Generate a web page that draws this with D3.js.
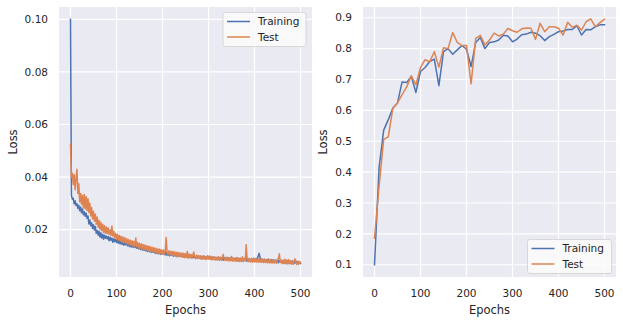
<!DOCTYPE html>
<html><head><meta charset="utf-8">
<script src="https://cdn.jsdelivr.net/npm/d3@7"></script>
<style>html,body{margin:0;padding:0;background:#fff;} svg{display:block;font-family:"DejaVu Sans",sans-serif;}</style>
</head><body>
<script>
// ---------- DATA ----------
const seriesNames = ["Training", "Test"];
const lossEpochs = d3.range(0, 501, 2);   // every 2nd epoch
const trainLoss = [
0.1000,0.0330,0.0316,0.0319,0.0298,0.0310,0.0292,0.0299,0.0281,0.0293,
0.0272,0.0286,0.0264,0.0279,0.0257,0.0268,0.0251,0.0263,0.0243,0.0252,
0.0222,0.0237,0.0215,0.0226,0.0204,0.0219,0.0199,0.0212,0.0186,0.0197,
0.0179,0.0194,0.0172,0.0188,0.0168,0.0183,0.0164,0.0179,0.0167,0.0176,
0.0165,0.0174,0.0158,0.0171,0.0160,0.0168,0.0152,0.0166,0.0155,0.0163,
0.0151,0.0162,0.0148,0.0160,0.0146,0.0157,0.0144,0.0155,0.0141,0.0153,
0.0143,0.0152,0.0139,0.0149,0.0136,0.0147,0.0134,0.0145,0.0133,0.0141,
0.0132,0.0143,0.0129,0.0139,0.0127,0.0137,0.0125,0.0136,0.0123,0.0133,
0.0122,0.0132,0.0119,0.0130,0.0117,0.0128,0.0116,0.0126,0.0113,0.0124,
0.0114,0.0123,0.0110,0.0121,0.0109,0.0119,0.0108,0.0118,0.0106,0.0117,
0.0107,0.0118,0.0105,0.0116,0.0104,0.0114,0.0102,0.0113,0.0101,0.0112,
0.0103,0.0111,0.0099,0.0110,0.0101,0.0109,0.0097,0.0108,0.0100,0.0106,
0.0098,0.0107,0.0096,0.0105,0.0094,0.0104,0.0097,0.0103,0.0093,0.0102,
0.0095,0.0104,0.0092,0.0101,0.0094,0.0100,0.0090,0.0099,0.0093,0.0101,
0.0092,0.0099,0.0089,0.0098,0.0091,0.0100,0.0088,0.0097,0.0090,0.0098,
0.0091,0.0099,0.0088,0.0097,0.0087,0.0096,0.0089,0.0095,0.0086,0.0094,
0.0087,0.0096,0.0085,0.0094,0.0088,0.0095,0.0084,0.0093,0.0086,0.0094,
0.0085,0.0093,0.0083,0.0092,0.0086,0.0094,0.0082,0.0091,0.0084,0.0092,
0.0083,0.0092,0.0081,0.0090,0.0084,0.0091,0.0080,0.0089,0.0083,0.0090,
0.0082,0.0091,0.0080,0.0089,0.0081,0.0088,0.0079,0.0090,0.0081,0.0088,
0.0080,0.0089,0.0082,0.0092,0.0098,0.0110,0.0096,0.0087,0.0078,0.0086,
0.0079,0.0087,0.0077,0.0086,0.0080,0.0088,0.0076,0.0085,0.0078,0.0086,
0.0077,0.0085,0.0075,0.0084,0.0078,0.0086,0.0074,0.0083,0.0076,0.0084,
0.0074,0.0083,0.0072,0.0082,0.0075,0.0084,0.0071,0.0081,0.0074,0.0082,
0.0072,0.0080,0.0070,0.0079,0.0073,0.0081,0.0070,0.0078,0.0072,0.0077,
0.0071];
const testLoss = [
0.0525,0.0398,0.0415,0.0372,0.0410,0.0352,0.0395,0.0430,0.0338,0.0375,
0.0305,0.0338,0.0296,0.0331,0.0283,0.0334,0.0279,0.0326,0.0272,0.0318,
0.0265,0.0301,0.0252,0.0284,0.0241,0.0270,0.0232,0.0259,0.0221,0.0248,
0.0209,0.0236,0.0201,0.0228,0.0196,0.0221,0.0190,0.0215,0.0186,0.0210,
0.0185,0.0207,0.0182,0.0199,0.0178,0.0214,0.0176,0.0193,0.0170,0.0186,
0.0164,0.0183,0.0160,0.0178,0.0157,0.0175,0.0153,0.0172,0.0151,0.0169,
0.0149,0.0166,0.0146,0.0163,0.0142,0.0160,0.0140,0.0158,0.0138,0.0155,
0.0137,0.0168,0.0135,0.0151,0.0131,0.0148,0.0129,0.0146,0.0127,0.0144,
0.0125,0.0142,0.0122,0.0139,0.0120,0.0137,0.0118,0.0135,0.0117,0.0133,
0.0115,0.0131,0.0113,0.0129,0.0111,0.0127,0.0110,0.0126,0.0109,0.0124,
0.0108,0.0123,0.0107,0.0121,0.0170,0.0112,0.0105,0.0120,0.0104,0.0118,
0.0103,0.0117,0.0102,0.0116,0.0100,0.0114,0.0099,0.0113,0.0098,0.0112,
0.0097,0.0111,0.0096,0.0110,0.0095,0.0109,0.0094,0.0117,0.0093,0.0107,
0.0093,0.0106,0.0092,0.0104,0.0115,0.0095,0.0091,0.0103,0.0090,0.0102,
0.0090,0.0101,0.0089,0.0100,0.0088,0.0099,0.0088,0.0098,0.0087,0.0101,
0.0088,0.0100,0.0087,0.0098,0.0086,0.0097,0.0086,0.0096,0.0085,0.0095,
0.0085,0.0096,0.0084,0.0094,0.0084,0.0093,0.0106,0.0088,0.0083,0.0094,
0.0083,0.0095,0.0082,0.0093,0.0082,0.0098,0.0081,0.0092,0.0081,0.0091,
0.0080,0.0094,0.0080,0.0092,0.0079,0.0091,0.0079,0.0097,0.0079,0.0090,
0.0082,0.0143,0.0084,0.0091,0.0078,0.0090,0.0078,0.0089,0.0077,0.0092,
0.0077,0.0090,0.0077,0.0088,0.0076,0.0093,0.0076,0.0087,0.0076,0.0089,
0.0075,0.0088,0.0075,0.0086,0.0074,0.0085,0.0074,0.0087,0.0073,0.0084,
0.0073,0.0086,0.0073,0.0083,0.0072,0.0085,0.0092,0.0108,0.0075,0.0084,
0.0071,0.0084,0.0071,0.0088,0.0070,0.0083,0.0070,0.0087,0.0070,0.0082,
0.0069,0.0083,0.0069,0.0081,0.0089,0.0077,0.0068,0.0080,0.0068,0.0079,
0.0074];
const accEpochs = d3.range(0, 501, 10);
const trainAcc = [0.100,0.415,0.536,0.570,0.608,0.624,0.692,0.690,0.710,0.658,
0.726,0.739,0.758,0.766,0.680,0.790,0.800,0.782,0.796,0.810,
0.798,0.742,0.820,0.836,0.800,0.820,0.822,0.828,0.843,0.841,
0.822,0.831,0.845,0.847,0.853,0.850,0.842,0.826,0.839,0.846,
0.855,0.857,0.862,0.862,0.874,0.844,0.862,0.861,0.871,0.877,0.877];
const testAcc = [0.186,0.356,0.506,0.514,0.608,0.624,0.651,0.676,0.712,0.683,
0.739,0.764,0.757,0.790,0.740,0.803,0.800,0.852,0.820,0.810,
0.810,0.686,0.833,0.843,0.812,0.828,0.850,0.841,0.847,0.865,
0.858,0.853,0.864,0.867,0.866,0.830,0.882,0.855,0.871,0.871,
0.866,0.844,0.885,0.869,0.876,0.860,0.887,0.896,0.871,0.884,0.895];
const xTicks = [0, 100, 200, 300, 400, 500];
const lossTicks = [0.02, 0.04, 0.06, 0.08, 0.10];
const accTicks = [0.1, 0.2, 0.3, 0.4, 0.5, 0.6, 0.7, 0.8, 0.9];
const xLabel = "Epochs", yLabel = "Loss";
const colors = ["#4c72b0", "#dd8452"];

// ---------- DRAW ----------
const W = 623, H = 322;
const svg = d3.select("body").append("svg").attr("width", W).attr("height", H);
const textColor = "#262626";

function panel(x0, x1, y0, y1, epochs, s1, s2, yDomain, yTicks, yFmt, legendPos) {
  const x = d3.scaleLinear().domain([-25, 525]).range([x0, x1]);
  const y = d3.scaleLinear().domain(yDomain).range([y1, y0]);
  const g = svg.append("g");
  g.append("rect").attr("x", x0).attr("y", y0).attr("width", x1 - x0).attr("height", y1 - y0).attr("fill", "#eaeaf2");
  // grid
  g.selectAll(".vg").data(xTicks).join("line")
    .attr("x1", d => x(d)).attr("x2", d => x(d)).attr("y1", y0).attr("y2", y1)
    .attr("stroke", "#fff").attr("stroke-width", 1.2);
  g.selectAll(".hg").data(yTicks).join("line")
    .attr("y1", d => y(d)).attr("y2", d => y(d)).attr("x1", x0).attr("x2", x1)
    .attr("stroke", "#fff").attr("stroke-width", 1.2);
  // tick labels
  g.selectAll(".xt").data(xTicks).join("text")
    .attr("x", d => x(d)).attr("y", 296.5).attr("text-anchor", "middle")
    .attr("font-size", 10.5).attr("fill", textColor).text(d => d);
  const yt = g.selectAll(".yt").data(yTicks).join("text")
    .attr("x", x0 - 11).attr("y", d => y(d)).attr("dy", "0.35em").attr("text-anchor", "end")
    .attr("font-size", 10.5).attr("fill", textColor).text(yFmt);
  let minX = Infinity;
  yt.each(function () { minX = Math.min(minX, this.getBBox().x); });
  // axis labels
  g.append("text").attr("x", (x0 + x1) / 2).attr("y", 313.5).attr("text-anchor", "middle")
    .attr("font-size", 11.5).attr("fill", textColor).text(xLabel);
  g.append("text").attr("transform", `translate(${minX - 12},${(y0 + y1) / 2}) rotate(-90)`)
    .attr("dy", "0.35em").attr("text-anchor", "middle")
    .attr("font-size", 11.5).attr("fill", textColor).text(yLabel);
  // lines
  const line = d3.line().x((d, i) => x(epochs[i])).y(d => y(d));
  [s1, s2].forEach((s, k) => {
    g.append("path").datum(s).attr("d", line).attr("fill", "none")
      .attr("stroke", colors[k]).attr("stroke-width", 1.5).attr("stroke-linejoin", "round").attr("stroke-linecap", "square");
  });
  // legend
  const lg = g.append("g");
  lg.append("rect").attr("x", legendPos.x).attr("y", legendPos.y).attr("width", legendPos.w).attr("height", 34)
    .attr("rx", 2.5).attr("fill", "#fbfbfc").attr("fill-opacity", 0.85).attr("stroke", "#d0d0d0").attr("stroke-width", 0.8);
  seriesNames.forEach((n, k) => {
    const ly = legendPos.y + 9 + k * 15.5;
    lg.append("line").attr("x1", legendPos.x + 4).attr("x2", legendPos.x + 27).attr("y1", ly).attr("y2", ly)
      .attr("stroke", colors[k]).attr("stroke-width", 1.5);
    lg.append("text").attr("x", legendPos.x + 35).attr("y", ly).attr("dy", "0.35em")
      .attr("font-size", 10.5).attr("fill", textColor).text(n);
  });
}

panel(59, 312, 7, 277, lossEpochs, trainLoss, testLoss, [0.002, 0.1047], lossTicks, d3.format(".2f"),
  {x: 223, y: 12.5, w: 83});
panel(363, 616, 7, 277, accEpochs, trainAcc, testAcc, [0.0603, 0.9348], accTicks, d3.format(".1f"),
  {x: 527.5, y: 239.5, w: 84});
</script>
</body></html>
